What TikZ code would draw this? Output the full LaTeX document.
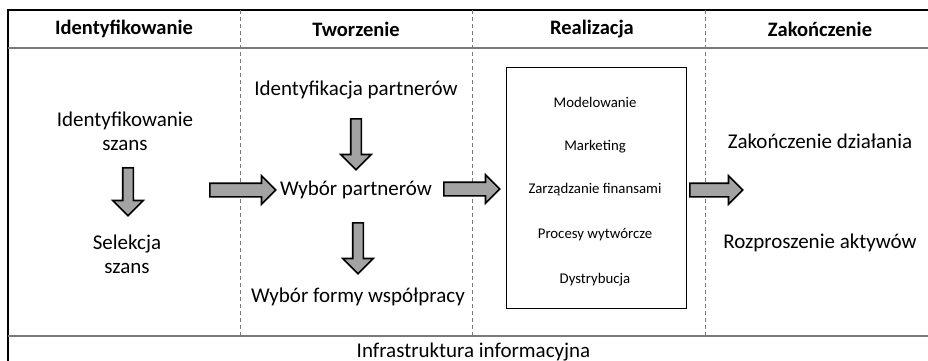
\documentclass[tikz,border=0pt]{standalone}
\usepackage{fontspec}
\setmainfont{Carlito}
\usetikzlibrary{shapes.arrows}
\definecolor{sepgray}{HTML}{7A7A7A}
\definecolor{arrowfill}{HTML}{A3A3A3}
\tikzset{
  hdr/.style={font=\bfseries\fontsize{20.5}{23}\selectfont, inner sep=0pt},
  body/.style={font=\fontsize{21}{24}\selectfont, inner sep=0pt, align=center},
  boxtxt/.style={font=\fontsize{14.8}{18}\selectfont, inner sep=0pt},
  harrow/.style={single arrow, draw=black, line width=1.6pt, fill=arrowfill,
    inner sep=6pt, single arrow head extend=7.5pt, anchor=tail},
  varrow/.style={single arrow, draw=black, line width=1.6pt, fill=arrowfill,
    inner sep=4.5pt, single arrow head extend=10pt,
    shape border rotate=270, anchor=tail},
  sep/.style={draw=sepgray, line width=1.4pt},
  dashsep/.style={draw=sepgray, line width=0.9pt, dash pattern=on 4pt off 3pt},
}
\begin{document}
\begin{tikzpicture}[x=1pt,y=-1pt]
\useasboundingbox (0,0) rectangle (928,360);
\clip (0,0) rectangle (928,360);
% frame
\draw[black, line width=1.2pt] (8,372) -- (8,10) -- (940,10);
\draw[sep] (8,48) -- (940,48);
\draw[sep] (8,336) -- (940,336);
\draw[dashsep] (240,10) -- (240,336);
\draw[dashsep] (472,10) -- (472,336);
\draw[dashsep] (705,10) -- (705,336);
% headers
\node[hdr] (h1) at (124,29) {Identyfikowanie};
\node[hdr] (h2) at (356,29) {Tworzenie};
\node[hdr] (h3) at (592,29) {Realizacja};
\node[hdr] (h4) at (820,29) {Zakończenie};
% column 1
\node[body] (is) at (125,131) {Identyfikowanie\\szans};
\node[body] (ss) at (127,254) {Selekcja\\szans};
\node[varrow, minimum height=48pt] (a1) at (128,167) {};
% column 2
\node[body] (ip) at (356,90) {Identyfikacja partnerów};
\node[body] (wp) at (356,190) {Wybór partnerów};
\node[body] (wf) at (358,297) {Wybór formy współpracy};
\node[varrow, minimum height=51pt] (a2) at (356,118) {};
\node[varrow, minimum height=51pt] (a3) at (358,222) {};
\node[harrow, minimum height=66pt] (a4) at (209,190) {};
% column 3
\draw[black, line width=1pt] (506,67) rectangle (686,308);
\node[boxtxt] (m1) at (595,102) {Modelowanie};
\node[boxtxt] (m2) at (595,147) {Marketing};
\node[boxtxt] (m3) at (595,190) {Zarządzanie finansami};
\node[boxtxt] (m4) at (595,235) {Procesy wytwórcze};
\node[boxtxt] (m5) at (595,280) {Dystrybucja};
\node[harrow, minimum height=56pt] (a5) at (443,189) {};
% column 4
\node[harrow, minimum height=53pt] (a6) at (689,190) {};
\node[body] (zd) at (820,141) {Zakończenie działania};
\node[body] (ra) at (820,243) {Rozproszenie aktywów};
% bottom
\node[body, anchor=base] (inf) at (473.5,357.5) {Infrastruktura informacyjna};
\end{tikzpicture}
\end{document}
